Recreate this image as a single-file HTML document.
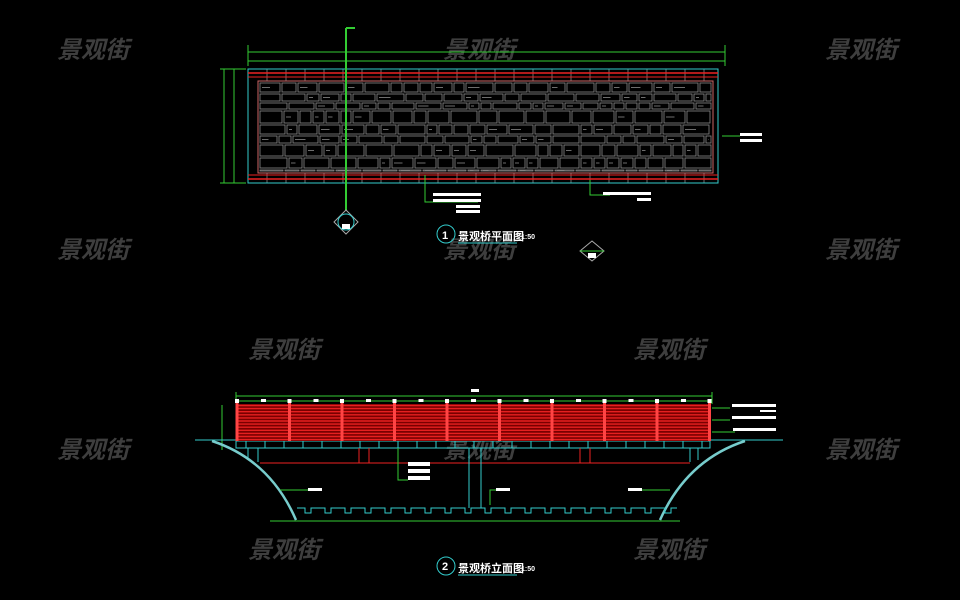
<!DOCTYPE html>
<html><head><meta charset="utf-8"><style>
html,body{margin:0;padding:0;background:#000;width:960px;height:600px;overflow:hidden}
svg{display:block}
.wm{font-family:"Liberation Sans","Noto Sans CJK SC",sans-serif;font-size:24px;font-weight:bold;font-style:italic;fill:#3e3e3e}
.t{font-family:"Liberation Sans","Noto Sans CJK SC",sans-serif;fill:#fff;font-weight:bold}
</style></head><body>
<svg id="s" width="960" height="600" viewBox="0 0 960 600" xmlns="http://www.w3.org/2000/svg">
<g class="wm">
<text x="57" y="58">景观街</text><text x="443" y="58">景观街</text><text x="825" y="58">景观街</text>
<text x="57" y="258">景观街</text><text x="443" y="258">景观街</text><text x="825" y="258">景观街</text>
<text x="248" y="358">景观街</text><text x="633" y="358">景观街</text>
<text x="57" y="458">景观街</text><text x="443" y="458">景观街</text><text x="825" y="458">景观街</text>
<text x="248" y="558">景观街</text><text x="633" y="558">景观街</text>
</g>
<g id="stones" stroke="#8a8a8a" stroke-width="0.8" fill="none"></g>
<g fill="none" stroke-width="1">
<rect x="248" y="69" width="470" height="114" stroke="#3cc" />
<line x1="248" y1="73" x2="718" y2="73" stroke="#e22" stroke-width="1.5"/>
<line x1="248" y1="77" x2="718" y2="77" stroke="#e22"/>
<line x1="248" y1="175" x2="718" y2="175" stroke="#e22"/>
<line x1="248" y1="179" x2="718" y2="179" stroke="#e22" stroke-width="1.5"/>
<rect x="258" y="81" width="455" height="92" stroke="#c66"/>
<g stroke="#3c3">
<line x1="248" y1="52" x2="725" y2="52"/><line x1="248" y1="61" x2="725" y2="61"/>
<line x1="248" y1="45" x2="248" y2="66"/><line x1="725" y1="45" x2="725" y2="66"/>
<line x1="224" y1="69" x2="224" y2="183"/><line x1="234" y1="69" x2="234" y2="183"/>
<line x1="220" y1="69" x2="246" y2="69"/><line x1="220" y1="183" x2="246" y2="183"/>
<line x1="346" y1="28" x2="346" y2="210" stroke-width="2"/><line x1="346" y1="28" x2="355" y2="28" stroke-width="2"/>
<polyline points="425,175 425,202 478,202"/>
<polyline points="590,180 590,195 610,195"/>
<line x1="722" y1="136" x2="740" y2="136"/>
</g>
</g>
<g fill="#fff">
<rect x="433" y="193" width="48" height="3"/><rect x="433" y="199" width="48" height="3"/><rect x="456" y="205" width="24" height="3"/><rect x="456" y="210" width="24" height="3"/>
<rect x="603" y="192" width="48" height="3"/><rect x="637" y="198" width="14" height="3"/>
<rect x="740" y="133" width="22" height="3"/><rect x="740" y="139" width="22" height="3"/>
</g>
<polygon points="346,210 358,222 346,234 334,222" fill="none" stroke="#aaa"/>
<circle cx="346" cy="222" r="8" fill="none" stroke="#3cc"/><rect x="342" y="224" width="8" height="5" fill="#fff"/>
<circle cx="446" cy="234" r="9" fill="none" stroke="#3cc"/>
<text x="442" y="239" class="t" font-size="11">1</text>
<text x="458" y="240" class="t" font-size="11">景观桥平面图</text><text x="521" y="239" class="t" font-size="7">1:50</text>
<line x1="458" y1="243" x2="517" y2="243" stroke="#3cc"/>
<polygon points="592,241 604,251 592,261 580,251" fill="none" stroke="#aaa"/><line x1="580" y1="251" x2="604" y2="251" stroke="#3c3"/><rect x="588" y="253" width="8" height="5" fill="#fff"/>
<g fill="none" stroke-width="1">
<line x1="236" y1="396" x2="712" y2="396" stroke="#3c3"/>
<line x1="236" y1="401" x2="712" y2="401" stroke="#3c3"/>
<line x1="236" y1="392" x2="236" y2="404" stroke="#3c3"/><line x1="712" y1="392" x2="712" y2="404" stroke="#3c3"/>
<line x1="222" y1="405" x2="222" y2="450" stroke="#3c3"/>
<line x1="195" y1="440" x2="783" y2="440" stroke="#3cc"/>
<rect x="236" y="441" width="474" height="7" stroke="#3cc"/>
<line x1="246" y1="448" x2="700" y2="448" stroke="#3cc"/>
<line x1="248" y1="448" x2="248" y2="460" stroke="#3cc"/><line x1="258" y1="448" x2="258" y2="462" stroke="#3cc"/>
<line x1="690" y1="448" x2="690" y2="462" stroke="#3cc"/><line x1="698" y1="448" x2="698" y2="460" stroke="#3cc"/>
<line x1="260" y1="463" x2="690" y2="463" stroke="#e22"/>
<line x1="359" y1="448" x2="359" y2="463" stroke="#e22"/><line x1="369" y1="448" x2="369" y2="463" stroke="#e22"/>
<line x1="580" y1="448" x2="580" y2="463" stroke="#e22"/><line x1="590" y1="448" x2="590" y2="463" stroke="#e22"/>
<line x1="469" y1="448" x2="469" y2="508" stroke="#3cc"/><line x1="481" y1="448" x2="481" y2="508" stroke="#3cc"/>
<path d="M212,441 Q270,460 296,520" stroke="#7cc" stroke-width="2.5"/>
<path d="M745,441 Q687,460 660,520" stroke="#7cc" stroke-width="2.5"/>
<path id="cren" stroke="#3cc"/>
<line x1="270" y1="521" x2="680" y2="521" stroke="#3c3"/>
<g stroke="#3c3">
<polyline points="398,448 398,480 408,480"/><polyline points="280,490 308,490"/><polyline points="490,505 490,490 510,490"/><polyline points="670,490 628,490"/>
<line x1="712" y1="408" x2="730" y2="408"/><line x1="712" y1="420" x2="730" y2="420"/><line x1="712" y1="432" x2="735" y2="432"/>
</g>
</g>
<g id="panel"></g>
<g fill="#fff">
<rect x="408" y="462" width="22" height="4"/><rect x="408" y="469" width="22" height="4"/><rect x="408" y="476" width="22" height="4"/>
<rect x="308" y="488" width="14" height="3"/><rect x="496" y="488" width="14" height="3"/><rect x="628" y="488" width="14" height="3"/>
<rect x="732" y="404" width="44" height="3"/><rect x="760" y="410" width="16" height="2"/><rect x="732" y="416" width="44" height="3"/><rect x="733" y="428" width="43" height="3"/>
<rect x="471" y="389" width="8" height="3"/>
</g>
<circle cx="446" cy="566" r="9" fill="none" stroke="#3cc"/>
<text x="442" y="570" class="t" font-size="11">2</text>
<text x="458" y="572" class="t" font-size="11">景观桥立面图</text><text x="521" y="571" class="t" font-size="7">1:50</text>
<line x1="458" y1="575" x2="517" y2="575" stroke="#3cc"/>
</svg>
<script>
var ns="http://www.w3.org/2000/svg";
function el(p,t,a){var e=document.createElementNS(ns,t);for(var k in a)e.setAttribute(k,a[k]);p.appendChild(e);return e;}
var st=document.getElementById("stones"),seed=7;
function r(){seed=(seed*9301+49297)%233280;return seed/233280;}
for(var y=82;y<171;){var h=8+Math.floor(r()*7);if(y+h>172)h=172-y;for(var x=259;x<712;){var w=12+Math.floor(r()*18);if(x+w>712)w=712-x;if(w>2&&h>2){el(st,"rect",{x:x+1,y:y+1,width:w-2,height:h-2});if(r()<0.4)el(st,"line",{x1:x+3,y1:y+h/2,x2:x+w/2,y2:y+h/2});}x+=w;}y+=h;}
for(var x=248;x<718;x+=19){el(st,"line",{x1:x,y1:69,x2:x,y2:81,stroke:"#888"});el(st,"line",{x1:x,y1:173,x2:x,y2:183,stroke:"#888"});}
var p=document.getElementById("panel");
el(p,"rect",{x:237,y:404,width:473,height:37,fill:"#7a0000"});
for(var i=0;i<12;i++){el(p,"line",{x1:237,y1:405.5+i*3.1,x2:710,y2:405.5+i*3.1,stroke:"#e62020","stroke-width":1.4});}
for(var i=0;i<10;i++){var x=237+i*52.5;el(p,"rect",{x:x-1.5,y:403,width:3,height:38,fill:"#f44"});el(p,"rect",{x:x-2,y:399,width:4,height:4,fill:"#fff"});if(i<9)el(p,"rect",{x:x+24,y:399,width:5,height:3,fill:"#fff"});}
for(var x=246;x<710;x+=19)el(p,"line",{x1:x,y1:441,x2:x,y2:448,stroke:"#3cc"});
var d="M297,508";for(var x=297;x<658;x+=20){d+=" L"+(x+8)+",508 L"+(x+8)+",513 L"+(x+14)+",513 L"+(x+14)+",508 L"+(x+20)+",508";}
document.getElementById("cren").setAttribute("d",d);
</script>
</body></html>
